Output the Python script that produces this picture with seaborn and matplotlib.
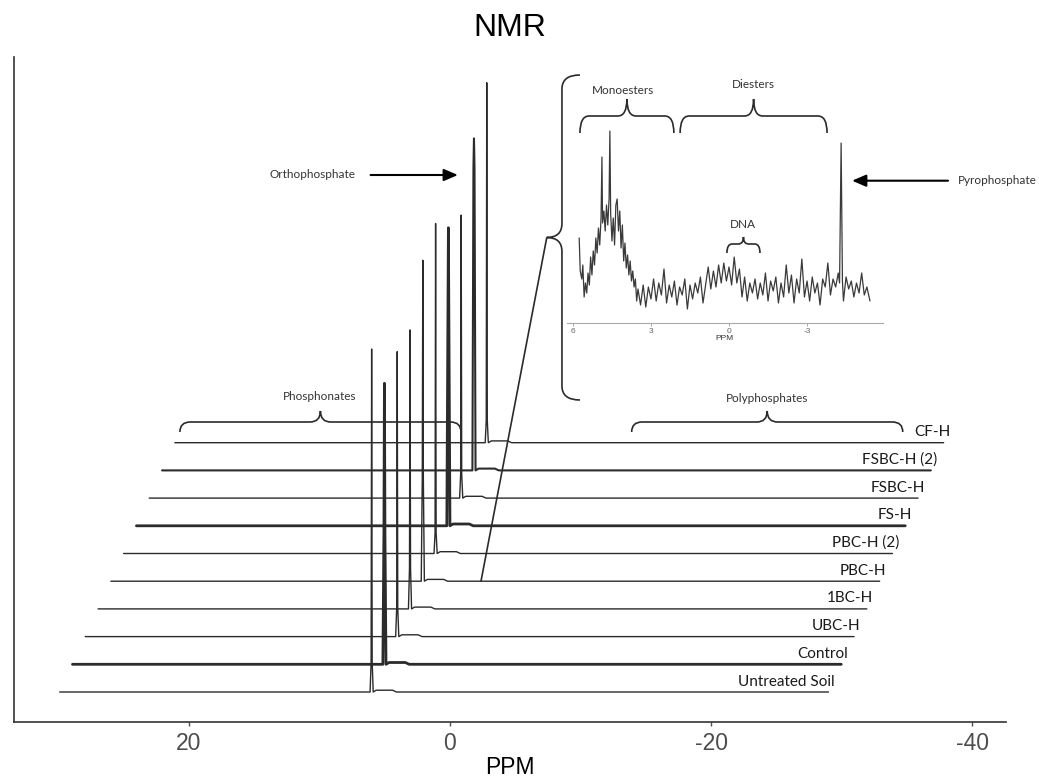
import numpy as np
import pandas as pd
import matplotlib
matplotlib.use("Agg")
import matplotlib.pyplot as plt
import seaborn as sns
from matplotlib.path import Path
from matplotlib.patches import PathPatch

# stacked 31P spectra, bottom to top
samples = ['Untreated Soil', 'Control', 'UBC-H', '1BC-H', 'PBC-H',
           'PBC-H (2)', 'FS-H', 'FSBC-H', 'FSBC-H (2)', 'CF-H']
peak_ppm = [6.0, 6.0, 6.0, 6.0, 6.0, 6.0, 6.0, 6.0, 6.0, 6.0]
peak_height = [343, 281, 285, 279, 321, 330, 298, 283, 332, 360]
peak_foot = [30, 131, 29, 41, 104, 21, 200, 24, 303, 22]
scan_start = 29.9
scan_end = -29.0

# zoomed spectrum (inset), ppm vs intensity
inset_ppm = [5.76, 5.72, 5.66, 5.62, 5.57, 5.52, 5.47, 5.42, 5.37, 5.32, 5.27, 5.22,
             5.17, 5.12, 5.07, 5.02, 4.97, 4.92, 4.885, 4.86, 4.81, 4.76, 4.71, 4.66,
             4.61, 4.58, 4.55, 4.50, 4.45, 4.40, 4.35, 4.30, 4.25, 4.20, 4.15, 4.10,
             4.05, 4.00, 3.95, 3.90, 3.85, 3.80, 3.75, 3.70, 3.65, 3.60, 3.55,
             3.5, 3.4, 3.3, 3.2, 3.1, 3.0, 2.9, 2.8, 2.7, 2.6, 2.5, 2.4, 2.3, 2.2,
             2.1, 2.0, 1.9, 1.8, 1.7, 1.6, 1.5, 1.4, 1.3, 1.2, 1.1, 1.0, 0.9, 0.8,
             0.7, 0.6, 0.5, 0.4, 0.3, 0.2, 0.1, 0.0, -0.1, -0.2, -0.3, -0.4, -0.5,
             -0.6, -0.7, -0.8, -0.9, -1.0, -1.1, -1.2, -1.3, -1.4, -1.5, -1.6, -1.7,
             -1.8, -1.9, -2.0, -2.1, -2.2, -2.3, -2.4, -2.5, -2.6, -2.7, -2.8, -2.9,
             -3.0, -3.1, -3.2, -3.3, -3.4, -3.5, -3.6, -3.7, -3.8, -3.9, -4.0, -4.1,
             -4.2, -4.25, -4.31, -4.36, -4.4, -4.5, -4.6, -4.7, -4.8, -4.9, -5.0,
             -5.1, -5.2, -5.3, -5.42]
inset_int = [85, 52, 44, 58, 26, 40, 30, 50, 38, 66, 48, 72,
             58, 85, 70, 95, 78, 105, 166, 100, 112, 92, 118, 98,
             125, 192, 110, 82, 105, 78, 118, 124, 92, 112, 75, 98,
             62, 80, 55, 68, 48, 62, 42, 52, 36, 44, 22,
             34, 18, 38, 16, 36, 24, 44, 22, 40, 28, 54, 20, 38, 26,
             42, 18, 36, 28, 44, 14, 38, 24, 40, 30, 46, 20, 38, 56,
             34, 52, 36, 58, 40, 60, 42, 56, 38, 66, 40, 54, 26,
             46, 22, 40, 30, 44, 24, 40, 28, 50, 22, 42, 32,
             46, 20, 40, 26, 58, 30, 48, 20, 44, 30, 64, 26,
             42, 22, 46, 30, 40, 18, 44, 36, 60, 28, 44, 36,
             50, 40, 180, 42, 22, 46, 34, 42, 26, 40, 30,
             50, 28, 36, 22]

x_step = 0.98   # ppm offset between stacked traces
y_step = 27.7
y_base = 30
ink = '#2b2b2b'

sns.set_theme(style="white")
plt.rcParams['font.family'] = ['Liberation Sans', 'DejaVu Sans']
plt.rcParams['axes.unicode_minus'] = False
lab_font = ['Lato', 'DejaVu Sans']

fig = plt.figure(figsize=(10.39, 7.82), dpi=100)
ax = fig.add_axes([14 / 1039, 60 / 782, 992 / 1039, 665 / 782])

for i, name in enumerate(samples):
    sh = -x_step * i
    base = y_base + y_step * i
    p = peak_ppm[i]
    h = peak_height[i]
    f = peak_foot[i]
    xs = [scan_start, p + 0.12, p + 0.04, p, p - 0.04, p - 0.12,
          p - 0.35, p - 1.6, p - 1.9, scan_end]
    ys = [0, 0, f, h, f, 0, 1.8, 1.8, 0, 0]
    sub = pd.DataFrame({'ppm': np.array(xs) + sh, 'y': np.array(ys) + base})
    lw = 2.0 if name in ('Control', 'FS-H') else (1.5 if name == 'FSBC-H (2)' else 1.0)
    sns.lineplot(data=sub, x='ppm', y='y', sort=False, estimator=None,
                 color=ink, lw=lw, ax=ax)
    ax.text(scan_end + sh - 0.5, base + 10.5, name, ha='right', va='center',
            fontsize=11, family=lab_font, color='#1a1a1a')

ax.set_xlim(33.4, -42.6)
ax.set_ylim(0, 665)
ax.set_xticks([20, 0, -20, -40])
ax.set_yticks([])
ax.set_xlabel('PPM', fontsize=16.5, labelpad=1, color='black')
ax.set_ylabel('')
ax.set_title('NMR', fontsize=23, pad=15, color='black')
ax.tick_params(axis='x', labelsize=16.5, labelcolor='#4d4d4d', length=3,
               width=1, color='#4d4d4d', pad=4, bottom=True)
sns.despine(ax=ax)
for s in ('left', 'bottom'):
    ax.spines[s].set_color('#333333')
    ax.spines[s].set_linewidth(1.2)


def hbrace(a, x0, x1, y_tip, y_bar, y_top, rx, lw=1.2):
    xc = (x0 + x1) / 2
    d = np.sign(x1 - x0)
    verts = [(x0, y_tip), (x0, y_bar), (x0 + d * rx, y_bar), (xc - d * rx, y_bar),
             (xc, y_bar), (xc, y_top), (xc, y_bar), (xc + d * rx, y_bar),
             (x1 - d * rx, y_bar), (x1, y_bar), (x1, y_tip)]
    codes = [Path.MOVETO, Path.CURVE3, Path.CURVE3, Path.LINETO,
             Path.CURVE3, Path.CURVE3, Path.CURVE3, Path.CURVE3,
             Path.LINETO, Path.CURVE3, Path.CURVE3]
    a.add_patch(PathPatch(Path(verts, codes), fill=False, lw=lw, ec=ink,
                          clip_on=False))


def vbrace(a, y0, y1, x_tip, x_bar, x_cusp, ry, lw=1.2):
    yc = (y0 + y1) / 2
    d = np.sign(y1 - y0)
    verts = [(x_tip, y0), (x_bar, y0), (x_bar, y0 + d * ry), (x_bar, yc - d * ry),
             (x_bar, yc), (x_cusp, yc), (x_bar, yc), (x_bar, yc + d * ry),
             (x_bar, y1 - d * ry), (x_bar, y1), (x_tip, y1)]
    codes = [Path.MOVETO, Path.CURVE3, Path.CURVE3, Path.LINETO,
             Path.CURVE3, Path.CURVE3, Path.CURVE3, Path.CURVE3,
             Path.LINETO, Path.CURVE3, Path.CURVE3]
    a.add_patch(PathPatch(Path(verts, codes), fill=False, lw=lw, ec=ink,
                          clip_on=False))


note = dict(fontsize=8.5, family=lab_font, color='#333333', ha='center', va='center')

# phosphonates / polyphosphates
hbrace(ax, 20.69, -0.84, 290, 300, 311, 0.8)
ax.text(10.0, 325, 'Phosphonates', **note)
hbrace(ax, -13.92, -34.69, 290, 300, 311, 0.8)
ax.text(-24.3, 323, 'Polyphosphates', **note)

# orthophosphate arrow
ax.annotate('', xy=(-0.61, 547), xytext=(6.08, 547),
            arrowprops=dict(arrowstyle='-|>,head_length=0.7,head_width=0.3',
                            color='black', lw=1.5, shrinkA=0, shrinkB=0))
ax.text(7.2, 547, 'Orthophosphate', **{**note, 'ha': 'right'})

# bracket linking the inset to the PBC-H trace
vbrace(ax, 647, 322, -9.96, -8.58, -7.41, 14)
ax.annotate('', xy=(-2.38, 141), xytext=(-7.41, 484),
            arrowprops=dict(arrowstyle='-', color=ink, lw=1.2,
                            shrinkA=0, shrinkB=0))

# inset
ins = fig.add_axes([566.7 / 1039, 1 - 323 / 782, 316.3 / 1039, 253 / 782])
ins.patch.set_alpha(0)
sns.lineplot(x=inset_ppm, y=inset_int, sort=False, estimator=None,
             color='#3a3a3a', lw=0.9, ax=ins)
ins.set_xlim(6.24, -5.92)
ins.set_ylim(0, 253)
ins.set_xticks([6, 3, 0, -3])
ins.set_xticklabels(['6', '3', '0', '-3'])
ins.set_yticks([])
ins.tick_params(axis='x', labelsize=6, labelcolor='#666666', length=2,
                color='#999999', width=0.6, pad=1.5, bottom=True)
ins.set_xlabel('PPM', fontsize=6, labelpad=0, color='#333333')
sns.despine(ax=ins, left=True)
ins.spines['bottom'].set_color('#aaaaaa')
ins.spines['bottom'].set_linewidth(0.8)

hbrace(ins, 5.73, 2.12, 190, 207, 224, 0.35)
ins.text(4.08, 233, 'Monoesters', **note)
hbrace(ins, 1.88, -3.77, 190, 207, 224, 0.35)
ins.text(-0.93, 239, 'Diesters', **note)
hbrace(ins, 0.08, -1.19, 70, 79, 86, 0.2)
ins.text(-0.54, 99, 'DNA', **note)

ins.annotate('', xy=(-4.73, 142.3), xytext=(-8.42, 142.3), annotation_clip=False,
             arrowprops=dict(arrowstyle='-|>,head_length=0.7,head_width=0.3',
                             color='black', lw=1.5, shrinkA=0, shrinkB=0))
ins.text(-8.81, 142.3, 'Pyrophosphate', **{**note, 'ha': 'left'})

fig.savefig('out.png', dpi=100)
